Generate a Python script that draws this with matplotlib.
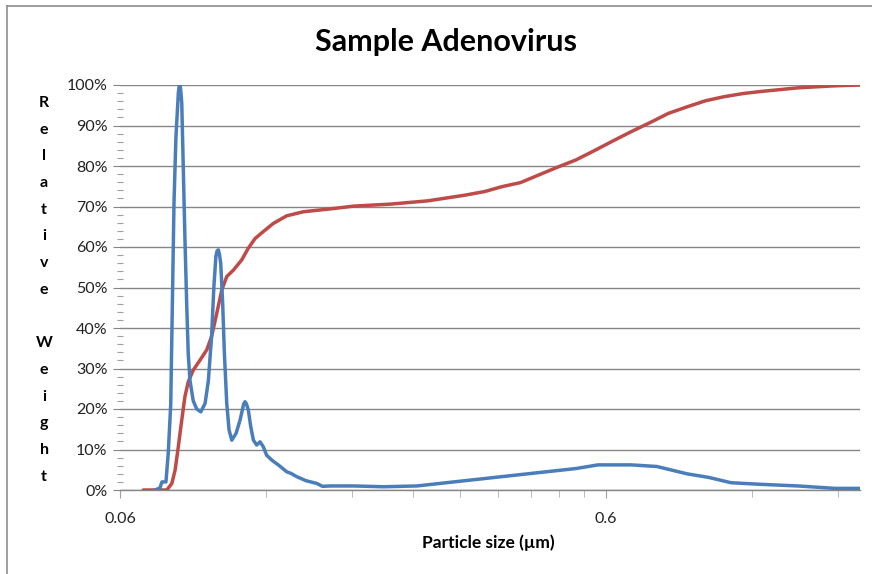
import matplotlib
matplotlib.use("Agg")
import matplotlib.pyplot as plt
from matplotlib.lines import Line2D
from matplotlib.ticker import FixedLocator, FuncFormatter, MultipleLocator, NullFormatter

# ---- data (particle size in µm, relative weight in %) ----
blue_size = [0.0708, 0.0725, 0.0732, 0.0746, 0.0754, 0.0763, 0.0769, 0.0775, 0.0782,
             0.0791, 0.0794, 0.0797, 0.0800, 0.0804, 0.0810, 0.0816, 0.0823, 0.0829, 0.0836, 0.0849,
             0.0863, 0.0880, 0.0898, 0.0912, 0.0926, 0.0936, 0.0945, 0.0950, 0.0956, 0.0961, 0.0967,
             0.0976, 0.0984, 0.0995, 0.1006, 0.1019, 0.1040, 0.1060, 0.1078, 0.1085, 0.1092, 0.1102,
             0.1115, 0.1129, 0.1147, 0.1165, 0.1183, 0.1202, 0.1231, 0.1270, 0.1322,
             0.1349, 0.1386, 0.1448, 0.1526, 0.1566, 0.1622, 0.1818, 0.2092, 0.2451,
             0.2818, 0.3077, 0.3666, 0.4367, 0.5206, 0.5776, 0.6769, 0.7639, 0.8203,
             0.8808, 0.9774, 1.085, 1.250, 1.491, 1.776, 2.000]
blue_weight = [0.0, 0.5, 2.0, 2.0, 9.0, 21.0, 46.0, 71.0, 87.0,
               98.0, 99.6, 100.0, 98.8, 95.5, 79.0, 62.5, 46.0, 33.7, 27.0, 22.0,
               20.0, 19.3, 21.4, 27.0, 37.9, 50.0, 57.6, 59.0, 59.3, 58.3, 56.0,
               46.0, 33.7, 21.4, 14.8, 12.3, 14.0, 17.3, 21.2, 21.8, 21.3, 19.8,
               15.6, 12.3, 11.1, 11.9, 10.7, 8.6, 7.4, 6.2, 4.5,
               4.1, 3.3, 2.3, 1.6, 0.9, 1.0, 1.0, 0.8, 1.0,
               1.8, 2.3, 3.3, 4.3, 5.3, 6.2, 6.2, 5.8, 4.9,
               4.0, 3.1, 1.8, 1.4, 1.0, 0.4, 0.4]

red_size = [0.0670, 0.0749, 0.0767, 0.0779, 0.0791, 0.0804, 0.0816, 0.0829, 0.0849,
            0.0877, 0.0905, 0.0926, 0.0949, 0.0972, 0.0995, 0.1027, 0.1068, 0.1102,
            0.1138, 0.1183, 0.1240, 0.1322, 0.1430, 0.1622, 0.1818, 0.2167, 0.2581,
            0.3077, 0.3380, 0.3666, 0.4002, 0.4367, 0.4768, 0.5206, 0.5681, 0.6205, 0.6769,
            0.7390, 0.8070, 0.8808, 0.9614, 1.049, 1.150, 1.250, 1.491, 1.776, 2.000]
red_weight = [0.0, 0.0, 1.6, 4.9, 10.7, 17.3, 23.0, 26.7, 29.6,
              32.1, 34.6, 37.9, 43.6, 49.4, 52.7, 54.3, 56.8, 59.7,
              62.1, 63.8, 65.8, 67.7, 68.7, 69.4, 70.1, 70.6, 71.4,
              72.8, 73.7, 74.9, 75.9, 77.8, 79.7, 81.5, 83.8, 86.2, 88.5,
              90.7, 93.0, 94.6, 96.1, 97.1, 97.9, 98.4, 99.3, 99.8, 100.0]

x_major = [0.06, 0.6]
x_minor = [0.12, 0.18, 0.24, 0.30, 0.36, 0.42, 0.48, 0.54, 1.2, 1.8]
x_major_labels = ["0.06", "0.6"]

title = "Sample Adenovirus"
xlabel = "Particle size (\u00b5m)"
ylabel = "Relative Weight"

# ---- figure ----
W, H = 872, 574
fig = plt.figure(figsize=(W / 100, H / 100), dpi=100)
font = "Lato"
plt.rcParams["font.family"] = [font, "DejaVu Sans"]

L, R, T, B = 120, 860, 85, 490
ax = fig.add_axes([L / W, 1 - B / H, (R - L) / W, (B - T) / H])

blue = "#4A7EBB"
red = "#BE4B48"
ax.plot(red_size, red_weight, color=red, lw=2.5, solid_capstyle="round", solid_joinstyle="round", zorder=3)
ax.plot(blue_size, blue_weight, color=blue, lw=2.5, solid_capstyle="round", solid_joinstyle="round", zorder=4)

ax.set_xscale("log")
ax.set_xlim(0.06, 2.0)
ax.set_ylim(0, 100)

ax.xaxis.set_major_locator(FixedLocator(x_major))
ax.xaxis.set_major_formatter(FuncFormatter(lambda v, p: x_major_labels[x_major.index(min(x_major, key=lambda m: abs(m - v)))]))
ax.xaxis.set_minor_locator(FixedLocator(x_minor))
ax.xaxis.set_minor_formatter(NullFormatter())

ax.yaxis.set_major_locator(MultipleLocator(10))
ax.yaxis.set_minor_locator(MultipleLocator(2))
ax.yaxis.set_major_formatter(FuncFormatter(lambda v, p: f"{int(round(v))}%"))

ax.grid(axis="y", which="major", color="#868686", lw=1.0)
ax.set_axisbelow(True)
for s in ["top", "right", "left"]:
    ax.spines[s].set_visible(False)
ax.spines["bottom"].set_color("#868686")
ax.spines["bottom"].set_linewidth(1.0)

ax.tick_params(axis="y", which="major", length=5, color="#868686", labelsize=11.5, pad=4, labelcolor="#222222")
ax.tick_params(axis="y", which="minor", length=4, direction="inout", color="#A0A0A0", width=0.8)
ax.tick_params(axis="x", which="major", length=6, color="#A0A0A0", labelsize=11.5, pad=10, labelcolor="#222222")
ax.tick_params(axis="x", which="minor", length=5, color="#B0B0B0")

fig.text(446 / W, 1 - 42 / H, title, ha="center", va="center", fontsize=22, fontweight="bold", color="black")
fig.text(488 / W, 1 - 543 / H, xlabel, ha="center", va="center", fontsize=12.5, fontweight="bold", color="black")

# stacked vertical y label
y0, step = 103, 26.7
for i, ch in enumerate(ylabel):
    if ch == " ":
        continue
    fig.text(44 / W, 1 - (y0 + i * step) / H, ch, ha="center", va="center", fontsize=11.5, fontweight="bold", color="black")

# chart border (top and left visible)
fig.add_artist(Line2D([7 / W, 7 / W], [0, 1 - 6 / H], transform=fig.transFigure, color="#8C8C8C", lw=1.2))
fig.add_artist(Line2D([7 / W, 1], [1 - 6 / H, 1 - 6 / H], transform=fig.transFigure, color="#8C8C8C", lw=1.2))

fig.savefig("out.png", dpi=100)
